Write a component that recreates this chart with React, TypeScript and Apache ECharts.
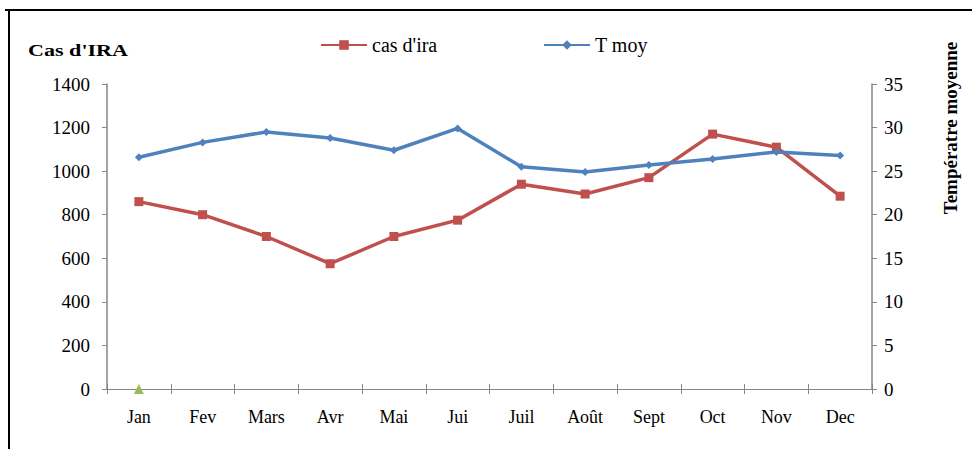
import React, { useEffect, useRef } from "react";
import * as echarts from "echarts";

const months = ["Jan", "Fev", "Mars", "Avr", "Mai", "Jui", "Juil", "Août", "Sept", "Oct", "Nov", "Dec"];
const casIra = [860, 800, 700, 575, 700, 775, 940, 895, 970, 1170, 1110, 885];
const tMoy = [26.6, 28.3, 29.5, 28.8, 27.4, 29.9, 25.5, 24.9, 25.7, 26.4, 27.2, 26.8];
const thirdSeries = [0];
const leftTicks = { min: 0, max: 1400, interval: 200 };
const rightTicks = { min: 0, max: 35, interval: 5 };

const FONT = "Liberation Serif";
const AXIS_GREY = "#868686";

export default function App() {
  const ref = useRef<HTMLDivElement>(null);
  useEffect(() => {
    if (!ref.current) return;
    const chart = echarts.init(ref.current, null, { renderer: "svg" });
    chart.setOption({
      animation: false,
      backgroundColor: "#ffffff",
      textStyle: { fontFamily: FONT },
      grid: { left: 107, right: 100, top: 84, bottom: 60, containLabel: false },
      legend: [
        {
          data: ["cas d'ira"],
          left: 315,
          top: 30,
          itemWidth: 46,
          itemHeight: 12,
          itemGap: 0,
          textStyle: { fontFamily: FONT, fontSize: 20, color: "#000" },
        },
        {
          data: ["T moy"],
          left: 538,
          top: 30,
          itemWidth: 46,
          itemHeight: 12,
          itemGap: 0,
          textStyle: { fontFamily: FONT, fontSize: 20, color: "#000" },
        },
      ],
      xAxis: [
        {
          type: "category",
          data: months,
          boundaryGap: true,
          position: "bottom",
          axisLine: { lineStyle: { color: AXIS_GREY, width: 1 } },
          axisTick: { show: true, inside: false, length: 5, lineStyle: { color: AXIS_GREY } },
          axisLabel: { color: "#000", fontSize: 18, fontFamily: FONT, margin: 19 },
          splitLine: { show: false },
        },
        {
          type: "category",
          data: months,
          boundaryGap: true,
          position: "bottom",
          axisLine: { show: false },
          axisTick: { show: true, inside: true, length: 5, lineStyle: { color: AXIS_GREY } },
          axisLabel: { show: false },
          splitLine: { show: false },
        },
      ],
      yAxis: [
        {
          type: "value",
          min: leftTicks.min,
          max: leftTicks.max,
          interval: leftTicks.interval,
          position: "left",
          axisLine: { show: true, lineStyle: { color: AXIS_GREY, width: 1.5 } },
          axisTick: { show: true, inside: false, length: 5, lineStyle: { color: AXIS_GREY } },
          axisLabel: {
            color: "#000",
            fontSize: 19,
            fontFamily: FONT,
            margin: 17,
            formatter: (v: number) => String(v),
          },
          splitLine: { show: false },
        },
        {
          type: "value",
          min: rightTicks.min,
          max: rightTicks.max,
          interval: rightTicks.interval,
          position: "right",
          axisLine: { show: true, lineStyle: { color: AXIS_GREY, width: 1.5 } },
          axisTick: { show: true, inside: false, length: 5, lineStyle: { color: AXIS_GREY } },
          axisLabel: {
            color: "#000",
            fontSize: 19,
            fontFamily: FONT,
            margin: 12,
            formatter: (v: number) => String(v),
          },
          splitLine: { show: false },
        },
      ],
      series: [
        {
          name: "cas d'ira",
          type: "line",
          data: casIra,
          xAxisIndex: 0,
          yAxisIndex: 0,
          symbol: "rect",
          symbolSize: 9,
          lineStyle: { color: "#C0504D", width: 3.5 },
          itemStyle: { color: "#C0504D" },
        },
        {
          name: "T moy",
          type: "line",
          data: tMoy,
          xAxisIndex: 0,
          yAxisIndex: 1,
          symbol: "diamond",
          symbolSize: 8,
          lineStyle: { color: "#4F81BD", width: 3.5 },
          itemStyle: { color: "#4F81BD" },
        },
        {
          name: "autre",
          type: "line",
          data: thirdSeries,
          xAxisIndex: 0,
          yAxisIndex: 0,
          symbol: "triangle",
          symbolSize: 10,
          lineStyle: { width: 0 },
          itemStyle: { color: "#9BBB59" },
        },
      ],
      graphic: [
        {
          type: "line",
          shape: { x1: 5, y1: 10, x2: 972, y2: 10 },
          style: { stroke: "#000", lineWidth: 2 },
        },
        {
          type: "line",
          shape: { x1: 9, y1: 10, x2: 9, y2: 449 },
          style: { stroke: "#000", lineWidth: 2 },
        },
        {
          type: "text",
          x: 28,
          y: 50,
          scaleX: 1.3,
          style: {
            text: "Cas d'IRA",
            fontFamily: FONT,
            fontSize: 17,
            fontWeight: "bold",
            fill: "#000",
            textAlign: "left",
            textVerticalAlign: "middle",
          },
        },
        {
          type: "text",
          x: 950,
          y: 128,
          rotation: Math.PI / 2,
          style: {
            text: "Températre moyenne",
            fontFamily: FONT,
            fontSize: 19,
            fontWeight: "bold",
            fill: "#000",
            textAlign: "center",
            textVerticalAlign: "middle",
          },
        },
      ],
    });
    return () => chart.dispose();
  }, []);
  return (
    <div
      ref={ref}
      style={{ position: "fixed", left: 0, top: 0, width: 972, height: 449, background: "#fff" }}
    />
  );
}
